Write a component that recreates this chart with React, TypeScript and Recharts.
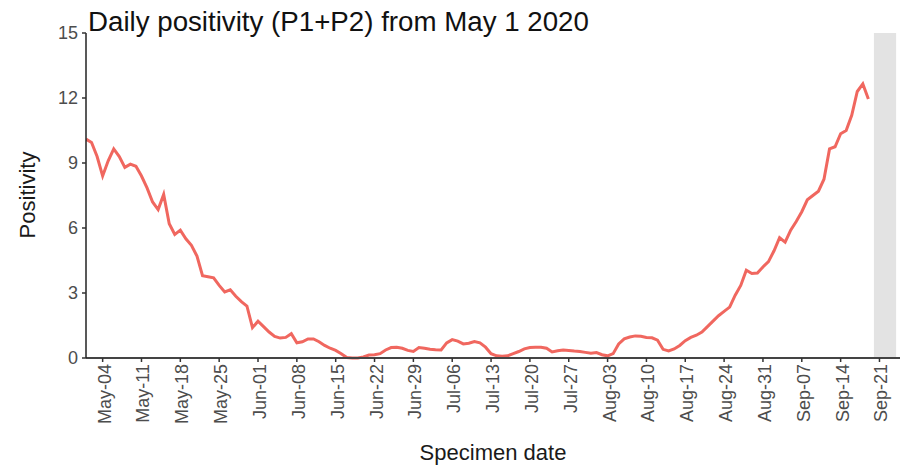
import React from "react";
import { LineChart, Line, XAxis, YAxis, ReferenceArea } from "recharts";

// Day index 0 = 2020-05-01
const positivity: number[] = [
  10.1, 9.95, 9.3, 8.4, 9.1, 9.65, 9.3, 8.8, 8.95, 8.85,
  8.4, 7.85, 7.2, 6.85, 7.55, 6.2, 5.7, 5.9, 5.5, 5.2,
  4.7, 3.8, 3.75, 3.7, 3.35, 3.05, 3.15, 2.85, 2.6, 2.4,
  1.4, 1.7, 1.45, 1.2, 1.0, 0.92, 0.95, 1.12, 0.7, 0.75,
  0.88, 0.88, 0.75, 0.58, 0.45, 0.35, 0.2, 0.02, 0.0, 0.0,
  0.05, 0.14, 0.15, 0.2, 0.37, 0.48, 0.5, 0.45, 0.35, 0.3,
  0.48, 0.45, 0.4, 0.38, 0.37, 0.7, 0.85, 0.78, 0.65, 0.68,
  0.76, 0.7, 0.5, 0.2, 0.1, 0.08, 0.1, 0.2, 0.3, 0.42,
  0.48, 0.5, 0.5, 0.45, 0.28, 0.33, 0.37, 0.35, 0.32, 0.3,
  0.26, 0.22, 0.25, 0.15, 0.1, 0.2, 0.65, 0.88, 0.97, 1.02,
  1.0, 0.95, 0.93, 0.82, 0.4, 0.33, 0.42, 0.58, 0.8, 0.95,
  1.05, 1.2, 1.45, 1.7, 1.95, 2.15, 2.35, 2.9, 3.35, 4.05,
  3.9, 3.92, 4.2, 4.45, 4.95, 5.55, 5.35, 5.9, 6.3, 6.75,
  7.3, 7.5, 7.7, 8.25, 9.65, 9.75, 10.35, 10.5, 11.2, 12.3,
  12.65, 11.95,
];

const tickDays: number[] = [3, 10, 17, 24, 31, 38, 45, 52, 59, 66, 73, 80, 87, 94, 101, 108, 115, 122, 129, 136, 143];
const tickLabels: string[] = [
  "May-04", "May-11", "May-18", "May-25", "Jun-01", "Jun-08", "Jun-15", "Jun-22", "Jun-29",
  "Jul-06", "Jul-13", "Jul-20", "Jul-27", "Aug-03", "Aug-10", "Aug-17", "Aug-24", "Aug-31",
  "Sep-07", "Sep-14", "Sep-21",
];
const yTicks: number[] = [0, 3, 6, 9, 12, 15];
const incompleteStart = 142; // Sep-20
const incompleteEnd = 146; // Sep-24
const xDomain: [number, number] = [0, 146.7];

const data = positivity.map((v, i) => ({ day: i, value: v }));

const FONT = "'Liberation Sans', Arial, sans-serif";

const XTick = (props: any) => {
  const { x, y, payload } = props;
  const idx = tickDays.indexOf(payload.value);
  const label = idx >= 0 ? tickLabels[idx] : "";
  return (
    <g transform={`translate(${x + 2},${y - 2})`}>
      <text
        transform="rotate(-90)"
        textAnchor="end"
        dominantBaseline="central"
        fontSize={18}
        fill="#4d4d4d"
        fontFamily={FONT}
      >
        {label}
      </text>
    </g>
  );
};

export default function App() {
  return (
    <div style={{ position: "absolute", left: 0, top: 0, width: 912, height: 466, background: "#fff" }}>
      <LineChart
        width={912}
        height={466}
        data={data}
        margin={{ top: 33, right: 12, left: 0, bottom: 0 }}
      >
        <ReferenceArea
          x1={incompleteStart}
          x2={incompleteEnd}
          y1={0}
          y2={15}
          fill="#e3e3e3"
          fillOpacity={1}
          stroke="none"
          ifOverflow="visible"
        />
        <XAxis
          dataKey="day"
          type="number"
          domain={xDomain}
          ticks={tickDays}
          interval={0}
          height={108}
          tick={<XTick />}
          tickSize={4}
          tickMargin={4}
          axisLine={{ stroke: "#444", strokeWidth: 2 }}
          tickLine={{ stroke: "#333", strokeWidth: 1.5 }}
          allowDataOverflow
          label={{
            value: "Specimen date",
            content: () => (
              <text x={493} y={452} textAnchor="middle" dominantBaseline="central" fontSize={22} fill="#1a1a1a" fontFamily={FONT}>
                Specimen date
              </text>
            ),
          }}
        />
        <YAxis
          type="number"
          domain={[0, 15]}
          ticks={yTicks}
          width={86}
          tickSize={4}
          tickMargin={4}
          axisLine={{ stroke: "#222", strokeWidth: 1.5 }}
          tickLine={{ stroke: "#333", strokeWidth: 1.5 }}
          tick={{ fontSize: 18, fill: "#4d4d4d", fontFamily: FONT }}
          label={{
            value: "Positivity",
            content: () => (
              <text
                x={27}
                y={195}
                transform="rotate(-90 27 195)"
                textAnchor="middle"
                dominantBaseline="central"
                fontSize={22}
                fill="#1a1a1a"
                fontFamily={FONT}
              >
                Positivity
              </text>
            ),
          }}
        />
        <Line
          type="linear"
          dataKey="value"
          stroke="#F0675F"
          strokeWidth={3}
          dot={false}
          isAnimationActive={false}
        />
      </LineChart>
      <svg width={912} height={466} style={{ position: "absolute", left: 0, top: 0, pointerEvents: "none" }}>
        <text x={88} y={31} fontSize={27.7} fill="#111" fontFamily={FONT}>
          Daily positivity (P1+P2) from May 1 2020
        </text>
      </svg>
    </div>
  );
}
